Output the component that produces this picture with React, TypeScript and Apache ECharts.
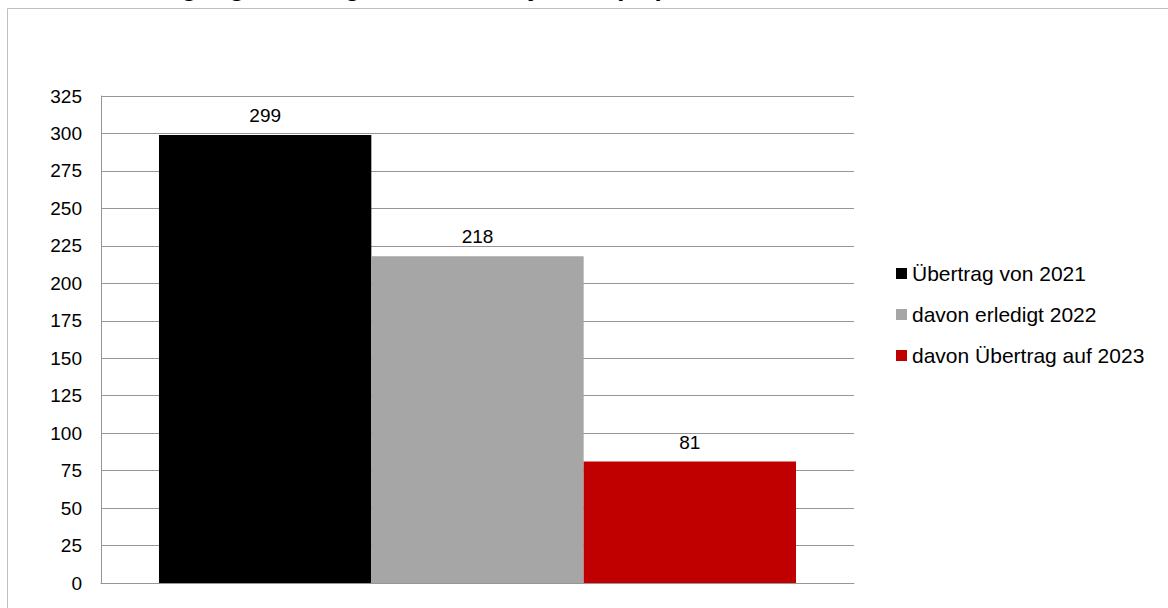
import React, { useEffect, useRef } from "react";
import * as echarts from "echarts";

const titleText = "Erledigung Überträge aus den Vorjahren (A1)";
const categories = [""];
const seriesNames = ["Übertrag von 2021", "davon erledigt 2022", "davon Übertrag auf 2023"];
const seriesValues = [299, 218, 81];
const seriesColors = ["#000000", "#a6a6a6", "#c00000"];
const yMin = 0;
const yMax = 325;
const yInterval = 25;

const FONT = "'Liberation Sans', Arial, sans-serif";

export default function App() {
  const ref = useRef<HTMLDivElement>(null);
  useEffect(() => {
    if (!ref.current) return;
    const chart = echarts.init(ref.current, null, { renderer: "svg" });
    chart.setOption({
      animation: false,
      backgroundColor: "#ffffff",
      textStyle: { fontFamily: FONT },
      graphic: [
        {
          type: "rect",
          shape: { x: 7.5, y: 8.5, width: 1200, height: 700 },
          style: { fill: "none", stroke: "#c0c0c0", lineWidth: 1 },
          silent: true,
          z: -1,
        },
        {
          type: "text",
          x: 109,
          y: 0,
          style: {
            text: titleText,
            font: `bold 26px ${FONT}`,
            fill: "#000000",
            verticalAlign: "bottom",
          },
          silent: true,
        },
      ],
      grid: { left: 101, right: 314, top: 96, bottom: 25, containLabel: false },
      legend: {
        orient: "vertical",
        left: 896,
        top: 263,
        padding: 0,
        itemWidth: 11,
        itemHeight: 11,
        itemGap: 20,
        icon: "rect",
        textStyle: { fontFamily: FONT, fontSize: 21, color: "#000000", lineHeight: 20 },
        data: seriesNames,
      },
      xAxis: {
        type: "category",
        data: categories,
        axisLine: { lineStyle: { color: "#969696", width: 1 } },
        axisTick: { show: false },
        axisLabel: { show: false },
      },
      yAxis: {
        type: "value",
        min: yMin,
        max: yMax,
        interval: yInterval,
        axisLine: { show: true, lineStyle: { color: "#969696", width: 1 } },
        axisTick: { show: false },
        axisLabel: { fontFamily: FONT, fontSize: 19, color: "#000000", margin: 19 },
        splitLine: { lineStyle: { color: "#969696", width: 1 } },
      },
      series: seriesNames.map((name, i) => ({
        name,
        type: "bar",
        data: [seriesValues[i]],
        barGap: "0%",
        barCategoryGap: "15.4%",
        itemStyle: { color: seriesColors[i] },
        label: {
          show: true,
          position: "top",
          distance: 10,
          fontFamily: FONT,
          fontSize: 19,
          color: "#000000",
        },
      })),
    });
    return () => chart.dispose();
  }, []);
  return (
    <div
      ref={ref}
      style={{ position: "fixed", left: 0, top: 0, width: 1168, height: 608 }}
    />
  );
}
